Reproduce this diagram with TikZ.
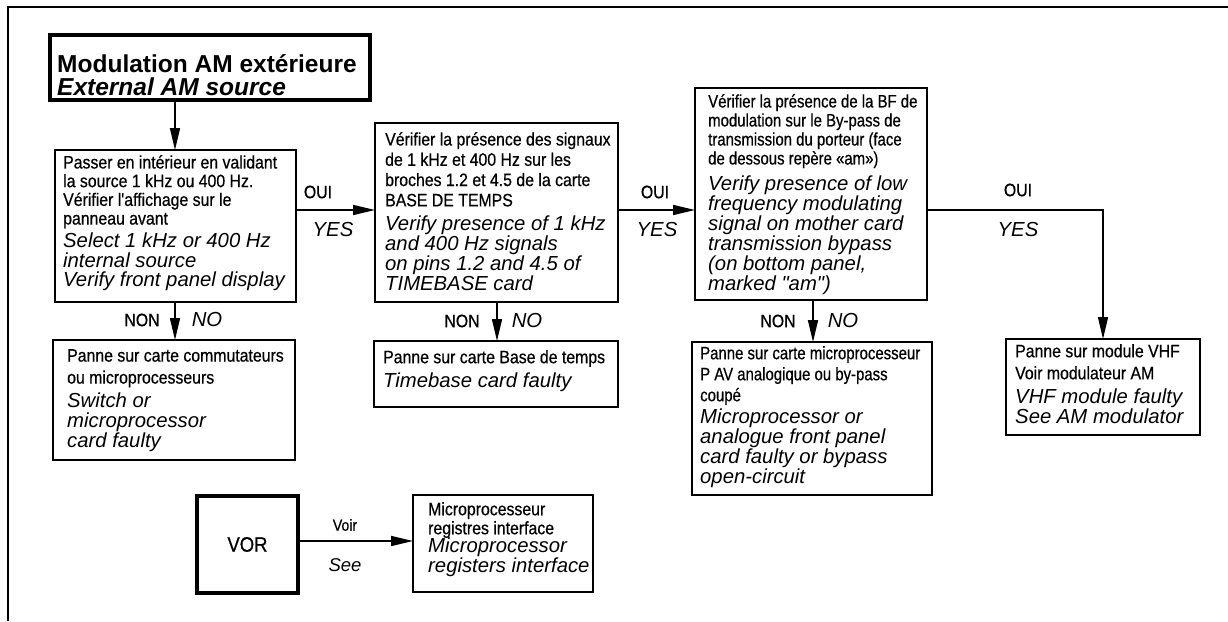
\documentclass[tikz,border=0pt]{standalone}
\usepackage{fontspec}
\setmainfont{Liberation Sans}
\newfontfamily\frf[FakeStretch=0.88,FakeBold=0.6]{Liberation Sans}
\newfontfamily\frc[FakeStretch=0.83,FakeBold=0.6]{Liberation Sans}
\newfontfamily\enf{Liberation Sans}
\usetikzlibrary{arrows.meta}
\lineskiplimit=-100pt
\tikzset{
  box/.style={draw, line width=1.8pt, inner sep=0pt, outer sep=0pt},
  heavy/.style={draw, line width=3.6pt, inner sep=0pt, outer sep=0pt},
  fr/.style={anchor=north west, inner sep=0pt, align=left,
    font=\frf\fontsize{18}{#1}\selectfont,
    execute at begin node={\rule{0pt}{15pt}}},
  frn/.style={anchor=north west, inner sep=0pt, align=left,
    font=\frc\fontsize{18}{#1}\selectfont,
    execute at begin node={\rule{0pt}{15pt}}},
  en/.style={anchor=north west, inner sep=0pt, align=left,
    font=\enf\itshape\fontsize{20.3}{#1}\selectfont,
    execute at begin node={\rule{0pt}{16pt}}},
  lab/.style={inner sep=0pt, font=\frf\fontsize{18}{20}\selectfont},
  labe/.style={inner sep=0pt, font=\enf\itshape\fontsize{20.3}{22}\selectfont},
  conn/.style={line width=1.6pt},
  arr/.style={conn, -{Triangle[length=22pt,width=10pt]}}
}
\begin{document}
\lineskiplimit=-100pt
\begin{tikzpicture}[x=1pt,y=-1pt]
\useasboundingbox (0,0) rectangle (1228,621);
% frame
\draw[line width=2.4pt] (8,621) -- (8,7) -- (1228,7);

% title
\node[heavy, minimum width=320pt, minimum height=65pt] (T) at (210,67.5) {};
\node[anchor=north west, inner sep=0pt, align=left,
  font=\enf\bfseries\fontsize{24.5}{23}\selectfont] (Tt) at (57,52)
  {\rule{0pt}{20pt}Modulation AM extérieure\\\itshape External AM source};

% boxes
\node[box, minimum width=241pt, minimum height=152pt] (B1) at (175.5,226) {};
\node[fr=18.7] (B1f) at (63,155) {Passer en intérieur en validant\\la source 1 kHz ou 400 Hz.\\Vérifier l'affichage sur le\\panneau avant};
\node[en=19.5] (B1e) at (63,233) {Select 1 kHz or 400 Hz\\internal source\\Verify front panel display};

\node[box, minimum width=243pt, minimum height=179pt] (B2) at (496.5,212.5) {};
\node[fr=20.3] (B2f) at (385,132) {Vérifier la présence des signaux\\de 1 kHz et 400 Hz sur les\\broches 1.2 et 4.5 de la carte\\BASE DE TEMPS};
\node[en=20] (B2e) at (385,216) {Verify presence of 1 kHz\\and 400 Hz signals\\on pins 1.2 and 4.5 of\\TIMEBASE card};

\node[box, minimum width=232pt, minimum height=212pt] (B3) at (811,194) {};
\node[frn=19] (B3f) at (708,94) {Vérifier la présence de la BF de\\modulation sur le By-pass de\\transmission du porteur (face\\de dessous repère «am»)};
\node[en=20] (B3e) at (708,176) {Verify presence of low\\frequency modulating\\signal on mother card\\transmission bypass\\(on bottom panel,\\marked "am")};

\node[box, minimum width=242pt, minimum height=120pt] (N1) at (174,400) {};
\node[fr=22] (N1f) at (67,349) {Panne sur carte commutateurs\\ou microprocesseurs};
\node[en=20] (N1e) at (67,393) {Switch or\\microprocessor\\card faulty};

\node[box, minimum width=244pt, minimum height=66pt] (N2) at (496,374) {};
\node[fr=20] (N2f) at (383,348) {Panne sur carte Base de temps};
\node[en=20] (N2e) at (383,371) {Timebase card faulty};

\node[box, minimum width=240pt, minimum height=153pt] (N3) at (812,418.5) {};
\node[frn=21] (N3f) at (700,346) {Panne sur carte microprocesseur\\P AV analogique ou by-pass\\coupé};
\node[en=19.7] (N3e) at (700,409) {Microprocessor or\\analogue front panel\\card faulty or bypass\\open-circuit};

\node[box, minimum width=194pt, minimum height=96pt] (V) at (1103,387) {};
\node[fr=22] (Vf) at (1015,344) {Panne sur module VHF\\Voir modulateur AM};
\node[en=20] (Ve) at (1015,389) {VHF module faulty\\See AM modulator};

\node[heavy, minimum width=101pt, minimum height=97pt, font=\frf\fontsize{21}{24}\selectfont] (VOR) at (247.5,544.5) {VOR};

\node[box, minimum width=180pt, minimum height=97pt] (M) at (503,543.5) {};
\node[fr=19] (Mf) at (428,502) {Microprocesseur\\registres interface};
\node[en=20] (Me) at (428,538) {Microprocessor\\registers interface};

% connectors
\coordinate (xa) at (175,0);
\coordinate (xb) at (497,0);
\coordinate (xc) at (813,0);
\coordinate (yb) at (0,210);
\coordinate (yc) at (0,541);
\draw[arr] (T.south -| xa) -- (B1.north -| xa);
\draw[arr] (B1.south -| xa) -- (N1.north -| xa);
\draw[arr] (B1.east |- yb) -- (B2.west |- yb);
\draw[arr] (B2.east |- yb) -- (B3.west |- yb);
\draw[arr] (B3.east |- yb) -| (V.north);
\draw[arr] (B2.south -| xb) -- (N2.north -| xb);
\draw[arr] (B3.south -| xc) -- (N3.north -| xc);
\draw[arr] (VOR.east |- yc) -- (M.west |- yc);

% labels
\node[lab] (oui1) at (318,192) {OUI};
\node[labe] (yes1) at (333,230) {YES};
\node[lab] (oui2) at (655,192) {OUI};
\node[labe] (yes2) at (657,230) {YES};
\node[lab] (oui3) at (1018,190) {OUI};
\node[labe] (yes3) at (1018,230) {YES};
\node[lab] (non1) at (142,320) {NON};
\node[labe] (no1) at (207,320) {NO};
\node[lab] (non2) at (462,321) {NON};
\node[labe] (no2) at (527,321) {NO};
\node[lab] (non3) at (778,321) {NON};
\node[labe] (no3) at (843,321) {NO};
\node[lab, font=\frf\fontsize{16}{18}\selectfont] (voir) at (345,525) {Voir};
\node[labe, font=\enf\itshape\fontsize{18.5}{20}\selectfont] (see) at (345,565) {See};
\end{tikzpicture}
\end{document}
